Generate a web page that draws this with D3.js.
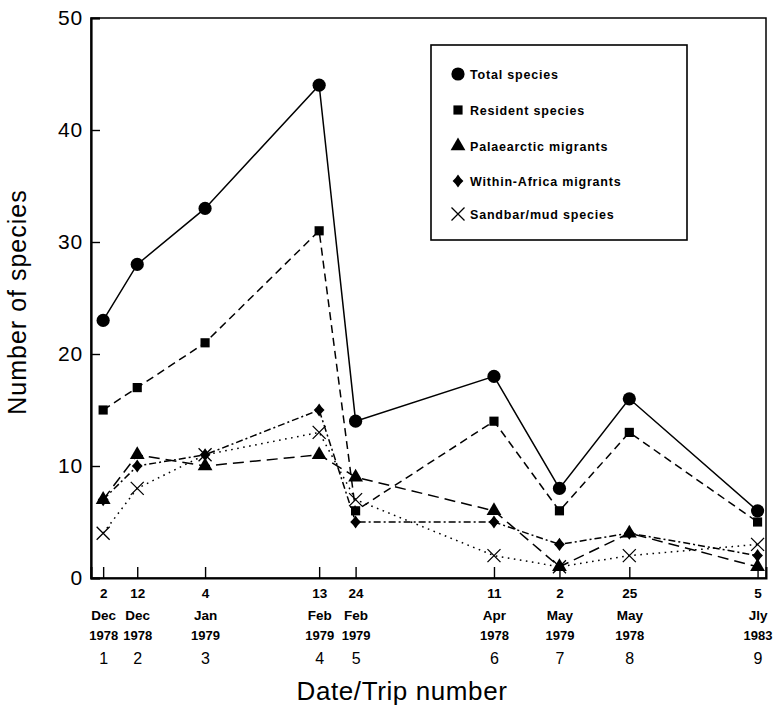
<!DOCTYPE html>
<html>
<head>
<meta charset="utf-8">
<script src="https://cdn.jsdelivr.net/npm/d3@7"></script>
<style>
  html, body { margin: 0; padding: 0; background: #fff; }
  svg { display: block; }
</style>
</head>
<body>
<svg id="chart" width="775" height="712"></svg>
<script>
// ---------- data ----------
const tripNumbers = [1, 2, 3, 4, 5, 6, 7, 8, 9];
const dayLabels   = ["2", "12", "4", "13", "24", "11", "2", "25", "5"];
const monthLabels = ["Dec", "Dec", "Jan", "Feb", "Feb", "Apr", "May", "May", "Jly"];
const yearLabels  = ["1978", "1978", "1979", "1979", "1979", "1978", "1979", "1978", "1983"];
// position of each trip on the (seasonal) date axis, in axis units 0..200
const tripPosition = [3.6, 13.7, 33.8, 67.6, 78.4, 119.4, 138.8, 159.5, 197.5];

const totalSpecies     = [23, 28, 33, 44, 14, 18, 8, 16, 6];
const residentSpecies  = [15, 17, 21, 31, 6, 14, 6, 13, 5];
const palaearcticMigr  = [7, 11, 10, 11, 9, 6, 1, 4, 1];
const withinAfricaMigr = [7, 10, 11, 15, 5, 5, 3, 4, 2];
const sandbarMudSpecies= [4, 8, 11, 13, 7, 2, 1, 2, 3];

const yTicks = [0, 10, 20, 30, 40, 50];

const seriesNames = ["Total species", "Resident species", "Palaearctic migrants",
                     "Within-Africa migrants", "Sandbar/mud species"];

// ---------- layout ----------
const svg = d3.select("#chart");
const plotL = 91, plotR = 766, plotT = 18, plotB = 578;
const FONT = "'Liberation Sans', Arial, Helvetica, sans-serif";

const x = d3.scaleLinear().domain([0, 200]).range([plotL, plotR]);
const y = d3.scaleLinear().domain([0, 50]).range([plotB, plotT]);

const series = [
  { name: seriesNames[0], values: totalSpecies,      marker: "circle",   dash: null },
  { name: seriesNames[1], values: residentSpecies,   marker: "square",   dash: "8,5" },
  { name: seriesNames[2], values: palaearcticMigr,   marker: "triangle", dash: "11,6" },
  { name: seriesNames[3], values: withinAfricaMigr,  marker: "diamond",  dash: "7,3,2,3" },
  { name: seriesNames[4], values: sandbarMudSpecies, marker: "cross",    dash: "1.6,4.5" }
];

function drawMarker(g, type, cx, cy) {
  if (type === "circle") {
    g.append("circle").attr("cx", cx).attr("cy", cy).attr("r", 6.6).attr("fill", "#000");
  } else if (type === "square") {
    g.append("path").attr("transform", `translate(${cx},${cy})`)
      .attr("d", d3.symbol(d3.symbolSquare, 84)()).attr("fill", "#000");
  } else if (type === "triangle") {
    g.append("path").attr("transform", `translate(${cx},${cy})`)
      .attr("d", d3.symbol(d3.symbolTriangle, 95)()).attr("fill", "#000");
  } else if (type === "diamond") {
    const w = 5.4, h = 6.6, k = 2.5;
    g.append("path")
      .attr("d", `M${cx},${cy - h}Q${cx + k},${cy - k} ${cx + w},${cy}` +
                 `Q${cx + k},${cy + k} ${cx},${cy + h}` +
                 `Q${cx - k},${cy + k} ${cx - w},${cy}` +
                 `Q${cx - k},${cy - k} ${cx},${cy - h}Z`)
      .attr("fill", "#000");
  } else if (type === "cross") {
    const s = 6.5;
    g.append("path")
      .attr("d", `M${cx - s},${cy - s}L${cx + s},${cy + s}M${cx - s},${cy + s}L${cx + s},${cy - s}`)
      .attr("stroke", "#000").attr("stroke-width", 1.3).attr("fill", "none");
  }
}

// ---------- frame ----------
svg.append("rect")
  .attr("x", plotL).attr("y", plotT)
  .attr("width", plotR - plotL).attr("height", plotB - plotT)
  .attr("fill", "none").attr("stroke", "#000").attr("stroke-width", 1.5);

// ---------- y axis ----------
const yAxis = d3.axisLeft(y).tickValues(yTicks).tickSize(-9).tickPadding(8)
  .tickFormat(d3.format("d"));
const gy = svg.append("g").attr("transform", `translate(${plotL},0)`).call(yAxis);
gy.select(".domain").attr("stroke-width", 2.2);
gy.selectAll(".tick line").attr("stroke-width", 1.4);
gy.selectAll(".tick text")
  .attr("font-family", FONT).attr("font-size", 21).attr("letter-spacing", 0.8)
  .attr("fill", "#000");

// ---------- x axis ----------
const xAxis = d3.axisBottom(x).tickValues(tripPosition).tickSize(-11).tickFormat("");
const gx = svg.append("g").attr("transform", `translate(0,${plotB})`).call(xAxis);
gx.select(".domain").attr("stroke-width", 2);
gx.selectAll(".tick line").attr("stroke-width", 1.4);

gx.selectAll(".tick").each(function(d, i) {
  const t = d3.select(this);
  const common = sel => sel.attr("text-anchor", "middle").attr("font-family", FONT)
    .attr("fill", "#000");
  common(t.append("text")).attr("y", 20).attr("font-size", 13.5).attr("font-weight", "bold")
    .text(dayLabels[i]);
  common(t.append("text")).attr("y", 42).attr("font-size", 13.5).attr("font-weight", "bold")
    .text(monthLabels[i]);
  common(t.append("text")).attr("y", 62).attr("font-size", 13).attr("font-weight", "bold")
    .text(yearLabels[i]);
  common(t.append("text")).attr("y", 86).attr("font-size", 16)
    .text(tripNumbers[i]);
});

// ---------- axis titles ----------
svg.append("text")
  .attr("x", 402).attr("y", 700)
  .attr("text-anchor", "middle").attr("font-family", FONT)
  .attr("font-size", 26).attr("letter-spacing", 0.6).attr("fill", "#000")
  .text("Date/Trip number");

svg.append("text")
  .attr("transform", "translate(26,302) rotate(-90)")
  .attr("text-anchor", "middle").attr("font-family", FONT)
  .attr("font-size", 25).attr("letter-spacing", 1.0).attr("fill", "#000")
  .text("Number of species");

// ---------- lines ----------
const line = d3.line().x((d, i) => x(tripPosition[i])).y(d => y(d));
const linesG = svg.append("g");
series.forEach(s => {
  linesG.append("path")
    .datum(s.values)
    .attr("d", line)
    .attr("fill", "none")
    .attr("stroke", "#000")
    .attr("stroke-width", 1.5)
    .attr("stroke-dasharray", s.dash);
});

// ---------- markers ----------
const markG = svg.append("g");
series.forEach(s => {
  s.values.forEach((v, i) => drawMarker(markG, s.marker, x(tripPosition[i]), y(v)));
});

// ---------- legend ----------
const lg = svg.append("g");
lg.append("rect")
  .attr("x", 431).attr("y", 45).attr("width", 256).attr("height", 195)
  .attr("fill", "#fff").attr("stroke", "#000").attr("stroke-width", 1.6);
const legendRows = [74, 110, 146, 181, 214];
series.forEach((s, i) => {
  drawMarker(lg, s.marker, 458, legendRows[i]);
  lg.append("text")
    .attr("x", 470).attr("y", legendRows[i] + 4.5)
    .attr("font-family", FONT).attr("font-size", 12.5).attr("font-weight", "bold")
    .attr("letter-spacing", 0.8).attr("fill", "#000")
    .text(s.name);
});
</script>
</body>
</html>
